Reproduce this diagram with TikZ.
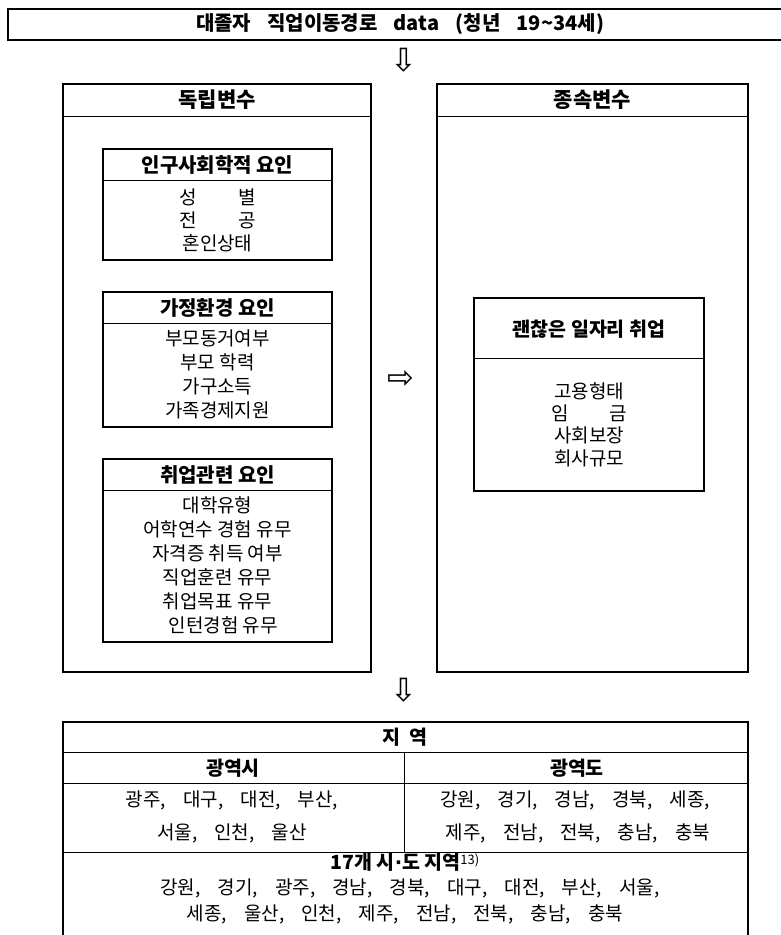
\documentclass[tikz,border=0pt]{standalone}
\usepackage{fontspec}
\setmainfont[Kerning=Off]{Noto Sans CJK KR}
\newfontfamily\symf{DejaVu Sans}
\newcommand\wideTitle{\spaceskip 0.8em\relax}
\newcommand\wideCell{\spaceskip 0.9em\relax}
\begin{document}
\begin{tikzpicture}[x=1pt,y=-1pt,
  thick border/.style={line width=2.6pt},
  thin line/.style={line width=0.9pt},
  boxnode/.style={draw, thick border, inner sep=0pt, outer sep=0pt},
  hdr/.style={font=\fontsize{20}{24}\selectfont\bfseries, inner sep=0pt},
  body/.style={font=\fontsize{19}{23}\selectfont, inner sep=0pt, align=center},
  body24/.style={font=\fontsize{19}{24}\selectfont, inner sep=0pt, align=center},
  cell/.style={font=\fontsize{19}{22}\selectfont\wideCell, inner sep=0pt},
  cellb/.style={font=\fontsize{19.5}{22}\selectfont\bfseries, inner sep=0pt},
  arrowglyph/.style={font=\symf\fontsize{32}{32}\selectfont, inner sep=0pt}
]
\useasboundingbox (0,0) rectangle (780,935);

% title box (open to the right)
\draw[thick border] (790,9) -- (8,9) -- (8,40) -- (790,40);
\node[font=\fontsize{20}{24}\selectfont\bfseries\wideTitle, inner sep=0pt] (title) at (400,24.5) {대졸자 직업이동경로 data (청년 19\textasciitilde 34세)};
\node[arrowglyph] (a1) at (404,60) {⇩};

% left big box
\node[boxnode, minimum width=308, minimum height=588] (L) at (217,378) {};
\draw[thin line] (L.west |- 0,116) -- (L.east |- 0,116);
\node[hdr, font=\fontsize{21}{24}\selectfont\bfseries] (Lh) at (217,100) {독립변수};

% right big box
\node[boxnode, minimum width=311, minimum height=588] (R) at (592.5,378) {};
\draw[thin line] (R.west |- 0,116) -- (R.east |- 0,116);
\node[hdr, font=\fontsize{21}{24}\selectfont\bfseries] (Rh) at (592.5,100) {종속변수};

% inner box 1
\node[boxnode, minimum width=229, minimum height=111] (B1) at (217.5,204.5) {};
\draw[thin line] (B1.west |- 0,180) -- (B1.east |- 0,180);
\node[hdr] (B1h) at (217.5,165) {인구사회학적 요인};
\node[body] (B1t) at (217.5,220) {\makebox[4em][s]{성\hfill 별}\\\makebox[4em][s]{전\hfill 공}\\혼인상태};

% inner box 2
\node[boxnode, minimum width=229, minimum height=135] (B2) at (217.5,359.5) {};
\draw[thin line] (B2.west |- 0,323) -- (B2.east |- 0,323);
\node[hdr] (B2h) at (217.5,308) {가정환경 요인};
\node[body24] (B2t) at (217.5,374) {부모동거여부\\부모 학력\\가구소득\\가족경제지원};

% inner box 3
\node[boxnode, minimum width=229, minimum height=183] (B3) at (217.5,550.5) {};
\draw[thin line] (B3.west |- 0,490) -- (B3.east |- 0,490);
\node[hdr] (B3h) at (217.5,475) {취업관련 요인};
\node[body24] (B3t) at (217.5,565) {대학유형\\어학연수 경험 유무\\자격증 취득 여부\\직업훈련 유무\\취업목표 유무\\\hspace{0.6em}인턴경험 유무};

% right inner box
\node[boxnode, minimum width=230, minimum height=193] (B4) at (589,394.5) {};
\draw[thin line] (B4.west |- 0,358) -- (B4.east |- 0,358);
\node[hdr, font=\fontsize{19.5}{24}\selectfont\bfseries] (B4h) at (589,329) {괜찮은 일자리 취업};
\node[body, font=\fontsize{19}{22.3}\selectfont] (B4t) at (589,424.5) {고용형태\\\makebox[4em][s]{임\hfill 금}\\사회보장\\회사규모};

\node[arrowglyph] (a2) at (401,380) {⇨};
\node[arrowglyph] (a3) at (404,690) {⇩};

% bottom table
\coordinate (TL) at (63,722);
\coordinate (TR) at (748,722);
\draw[thick border] (63,940) -- (TL) -- (TR) -- (748,940);
\draw[thin line] (63,752) -- (748,752);
\draw[thin line] (63,783) -- (748,783);
\draw[thin line] (63,852) -- (748,852);
\draw[thin line] (404,752) -- (404,852);

\node[cellb] (c0) at (405,737) {지\hspace{0.5em}역};
\node[cellb] (c1) at (233,768) {광역시};
\node[cellb] (c2) at (577,768) {광역도};
\node[cell] (c3) at (232,800) {광주, 대구, 대전, 부산,};
\node[cell] (c4) at (232,833) {서울, 인천, 울산};
\node[cell] (c5) at (575,800) {강원, 경기, 경남, 경북, 세종,};
\node[cell] (c6) at (578,833) {제주, 전남, 전북, 충남, 충북};
\node[cellb] (c7) at (405,862) {17개 시{\symf ·}도 지역\raisebox{0.25em}{\fontsize{13}{13}\selectfont\mdseries 13)}};
\node[cell] (c8) at (410,888) {강원, 경기, 광주, 경남, 경북, 대구, 대전, 부산, 서울,};
\node[cell] (c9) at (405,914) {세종, 울산, 인천, 제주, 전남, 전북, 충남, 충북};
\end{tikzpicture}
\end{document}
